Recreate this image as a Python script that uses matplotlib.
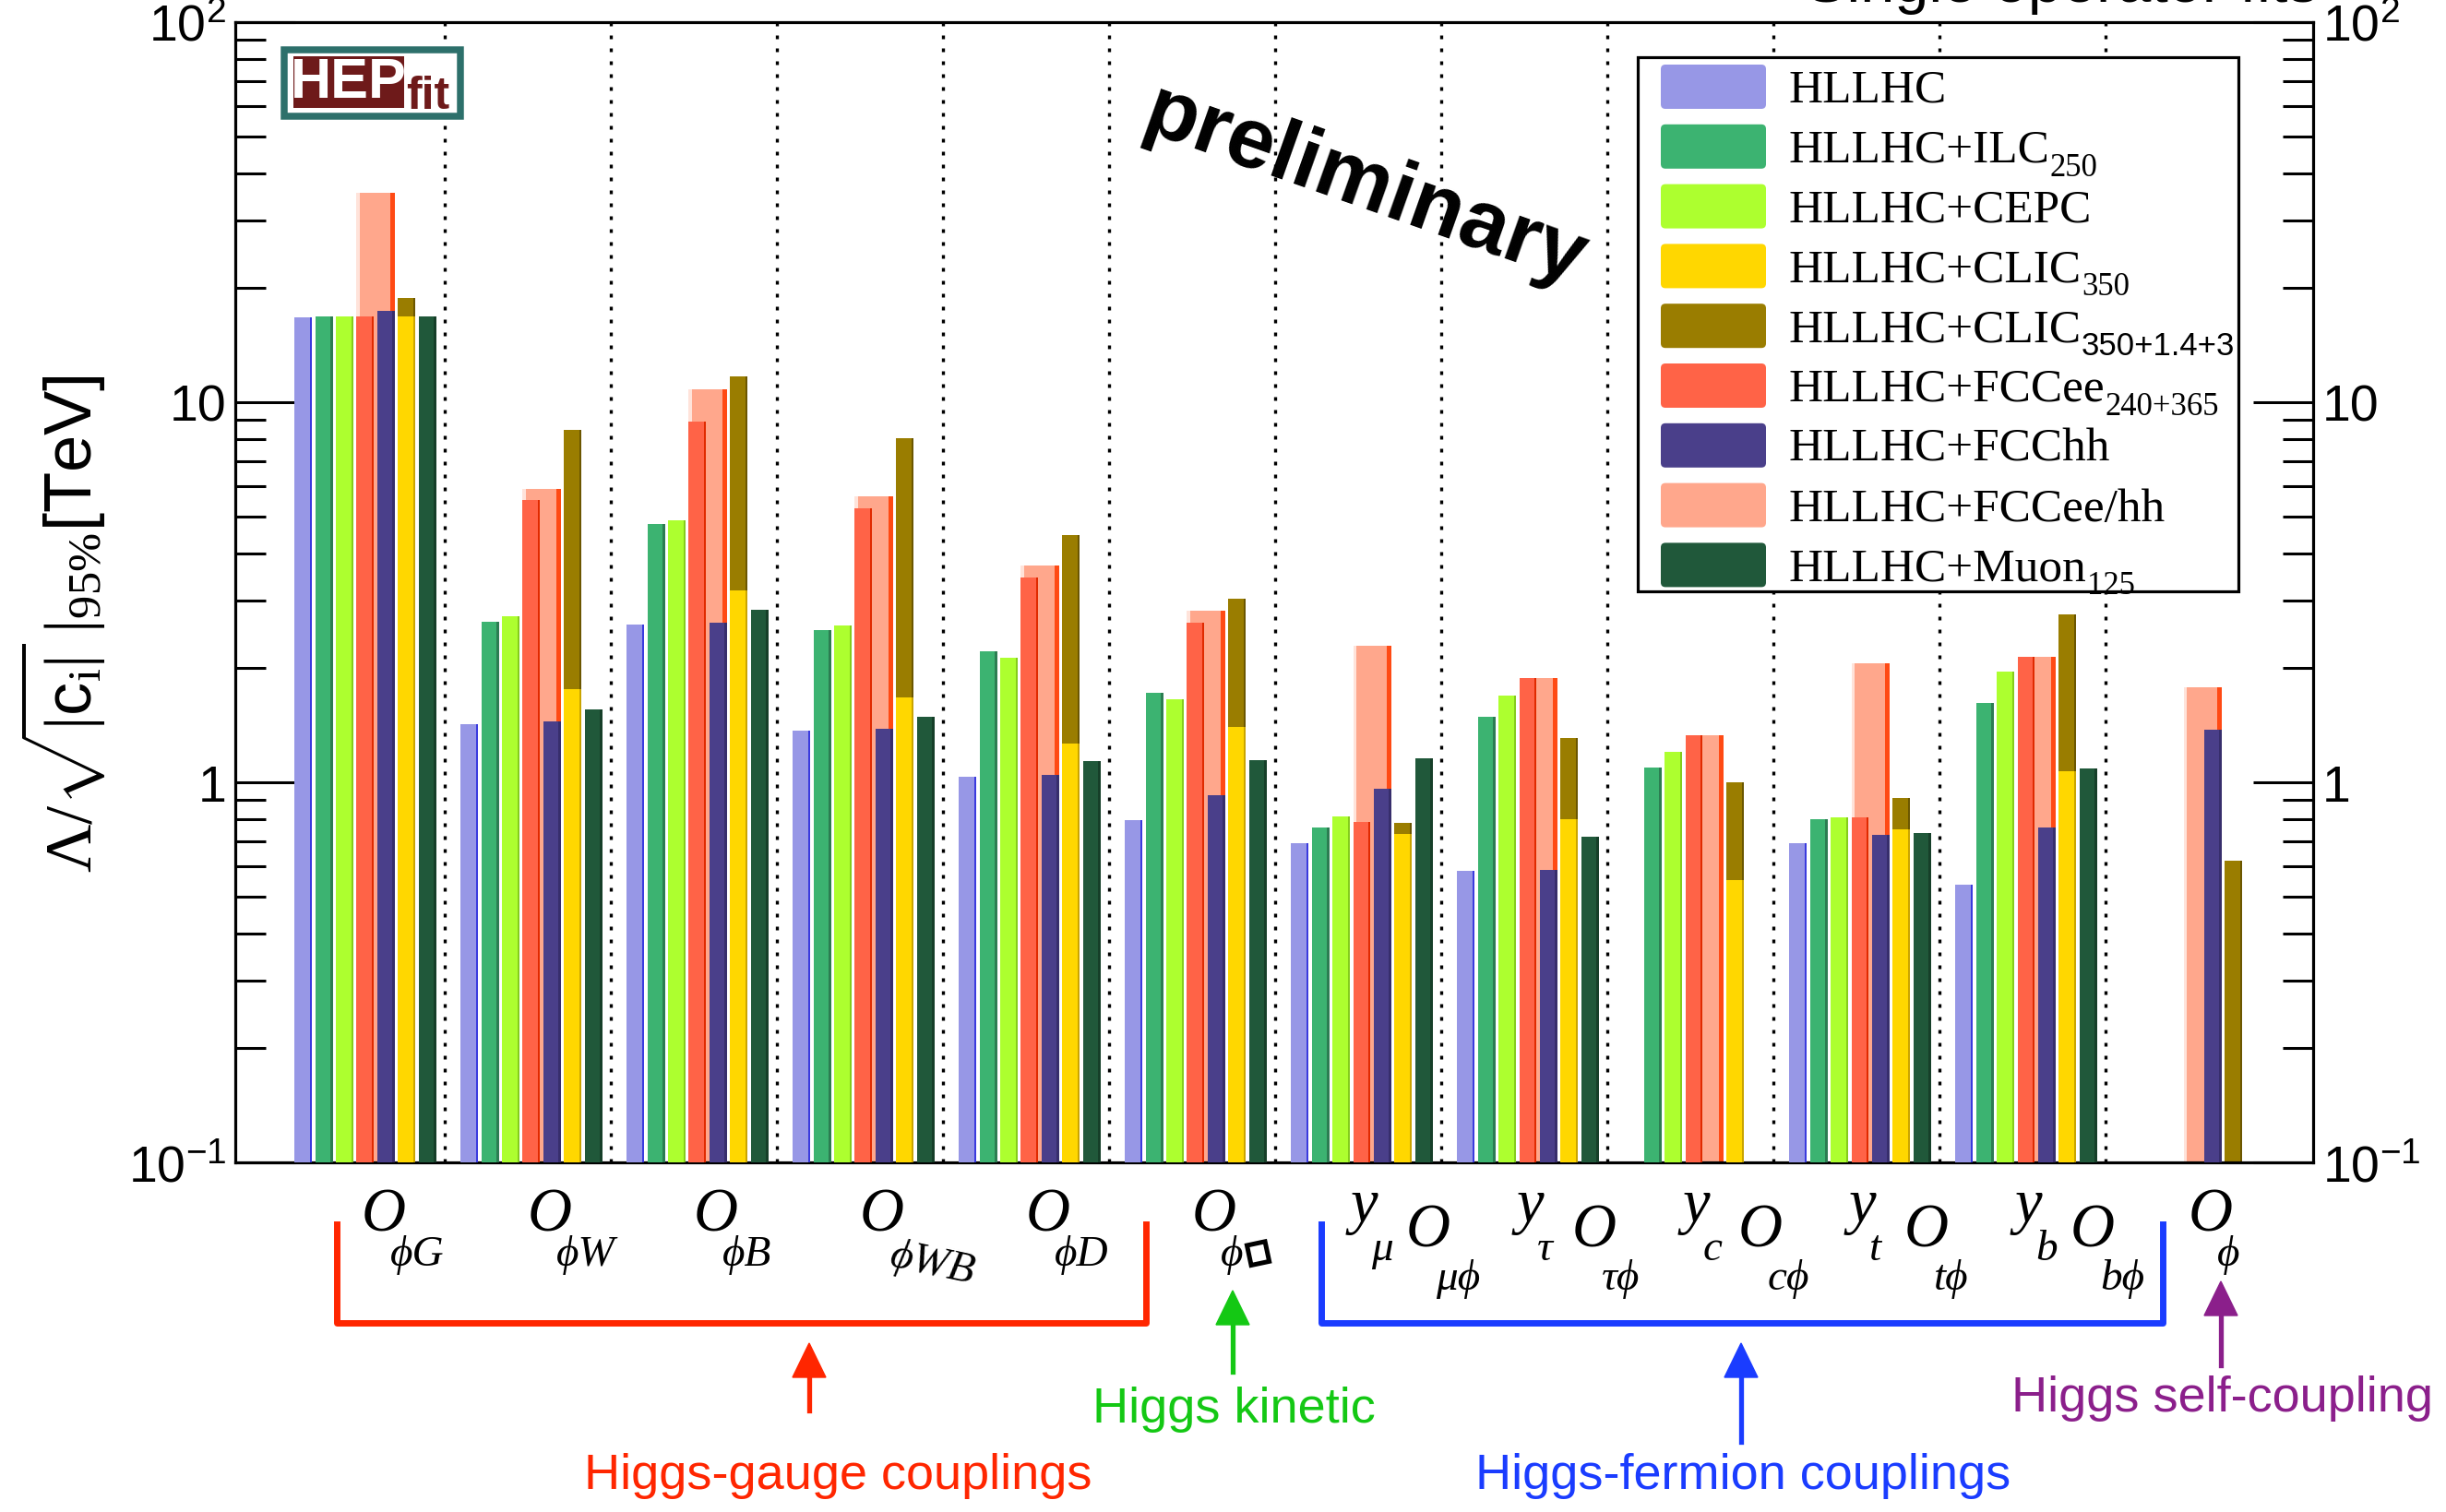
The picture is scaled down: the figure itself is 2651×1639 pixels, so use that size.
import numpy as np
import matplotlib.pyplot as plt
import matplotlib.transforms as mtransforms
from matplotlib.patches import Rectangle, FancyBboxPatch

plt.rcParams['font.family'] = ['Liberation Sans', 'DejaVu Sans']
plt.rcParams['mathtext.fontset'] = 'custom'
plt.rcParams['mathtext.rm'] = 'Liberation Serif'
plt.rcParams['mathtext.it'] = 'Liberation Serif:italic'
plt.rcParams['mathtext.sf'] = 'Liberation Sans'
plt.rcParams['mathtext.bf'] = 'Liberation Serif:bold'

nan = np.nan

# operator labels: optional Yukawa prefix, its subscript, and the operator subscript
prefix = ['', '', '', '', '', '', 'y', 'y', 'y', 'y', 'y', '']
prefix_sub = ['', '', '', '', '', '', 'μ', 'τ', 'c', 't', 'b', '']
op_sub = ['ϕG', 'ϕW', 'ϕB', 'ϕWB', 'ϕD', 'ϕ□', 'μϕ', 'τϕ', 'cϕ', 'tϕ', 'bϕ', 'ϕ']

# 95% CL reach on Lambda/sqrt(|c_i|) in TeV (nan = not shown)
hllhc    = [16.7, 1.425, 2.60, 1.363, 1.034, 0.794, 0.693, 0.584, nan, 0.693, 0.537, nan]
ilc      = [16.8, 2.64, 4.77, 2.51, 2.21, 1.72, 0.762, 1.49, 1.09, 0.800, 1.62, nan]
cepc     = [16.8, 2.74, 4.88, 2.59, 2.13, 1.65, 0.813, 1.686, 1.20, 0.809, 1.956, nan]
clic350  = [16.8, 1.756, 3.19, 1.672, 1.264, 1.396, 0.730, 0.800, 0.552, 0.751, 1.066, nan]
clic_all = [18.8, 8.43, 11.65, 8.03, 4.47, 3.04, 0.782, 1.31, 1.002, 0.911, 2.76, 0.623]
fccee    = [16.8, 5.53, 8.86, 5.25, 3.46, 2.63, 0.784, 1.877, 1.327, 0.809, 2.135, nan]
fcchh    = [17.4, 1.444, 2.63, 1.383, 1.044, 0.925, 0.960, 0.587, nan, 0.726, 0.762, 1.375]
fcceehh  = [35.6, 5.91, 10.78, 5.65, 3.72, 2.82, 2.29, 1.877, 1.327, 2.05, 2.135, 1.776]
muon     = [16.8, 1.553, 2.84, 1.49, 1.135, 1.146, 1.156, 0.718, nan, 0.734, 1.084, nan]

legend_main = ['HLLHC', 'HLLHC+ILC', 'HLLHC+CEPC', 'HLLHC+CLIC', 'HLLHC+CLIC',
               'HLLHC+FCCee', 'HLLHC+FCChh', 'HLLHC+FCCee/hh', 'HLLHC+Muon']
legend_sub = ['', '250', '', '350', '350+1.4+3', '240+365', '', '', '125']
colors = ['#9797e6', '#3cb371', '#adff2f', '#ffd700', '#9a7d00', '#ff6347',
          '#4a3f8a', '#ffa78c', '#20583a']

W, H = 2651, 1640
fig = plt.figure(figsize=(W / 100, H / 100), dpi=100)
ax = fig.add_axes([255 / W, 1 - 1261 / H, (2507 - 255) / W, (1261 - 24.7) / H])
# pixel coordinates measured from the top-left corner of the image
pix = mtransforms.Affine2D().scale(1, -1).translate(0, H)
renderer = fig.canvas.get_renderer()

ax.set_yscale('log')
ax.set_ylim(0.1, 100)
ax.set_xlim(-0.261, 12.25)

x0 = np.arange(len(op_sub))
off, step, bw = 0.096, 0.1245, 0.105


def draw(vals, slot, color, edge, width=bw, strip=0.013, z=3, light=None):
    v = np.asarray(vals, float)
    ok = ~np.isnan(v)
    xl = x0[ok] + off + slot * step
    ax.bar(xl, v[ok], width=width, align='edge', color=color, linewidth=0, zorder=z)
    ax.bar(xl + width - strip, v[ok], width=strip, align='edge', color=edge,
           linewidth=0, zorder=z)
    if light is not None:
        ax.bar(xl, v[ok], width=0.02, align='edge', color=light, linewidth=0, zorder=z)


# wide background bars first, then the single-slot bars on top
draw(fcceehh, 3, colors[7], '#ff4a14', width=step + bw, strip=0.026, z=2, light='#ffe3da')
draw(clic_all, 5, colors[4], '#6b5600', z=2)
draw(hllhc, 0, colors[0], '#3a3ade')
draw(ilc, 1, colors[1], '#2c7d52')
draw(cepc, 2, colors[2], '#84cc1c')
draw(fccee, 3, colors[5], '#e02a00')
draw(fcchh, 4, colors[6], '#372e6c')
draw(clic350, 5, colors[3], '#c9a400')
draw(muon, 6, colors[8], '#163f29')

ax.vlines(np.arange(1, 12), 0.1, 100, colors='black', linestyles=(0, (1.2, 3.0)),
          linewidth=2.4, zorder=1.5)

for s in ax.spines.values():
    s.set_linewidth(2.3)
ax.set_xticks([])
ax.set_yticks([0.1, 1, 10, 100])
ax.set_yticklabels([r'$\mathdefault{10^{-1}}$', '1', '10', r'$\mathdefault{10^{2}}$'])
ax.yaxis.set_minor_locator(plt.LogLocator(base=10, subs=np.arange(2, 10)))
ax.yaxis.set_minor_formatter(plt.NullFormatter())
ax.tick_params(axis='y', which='major', direction='in', length=47, width=2.2,
               left=True, right=True, labelleft=True, labelright=True,
               labelsize=40, pad=7)
ax.tick_params(axis='y', which='minor', direction='in', length=24, width=2.2,
               left=True, right=True)

# y-axis title
fig.text(68, 676, r'$\Lambda/\sqrt{|\mathsf{c}_{\mathrm{i}}|}\;|_{\mathit{95\%}}$[TeV]',
         transform=pix, rotation=90, ha='center', va='center', fontsize=52)

# legend
serif = ['Liberation Serif', 'DejaVu Serif', 'DejaVu Sans']
fig.add_artist(Rectangle((1775, 63), 651, 579, transform=pix, facecolor='white',
                         edgecolor='black', linewidth=2.3, zorder=5))
for k, (lab, sub, c) in enumerate(zip(legend_main, legend_sub, colors)):
    yc = 95 + 64.8 * k
    fig.add_artist(FancyBboxPatch((1800, yc - 24), 114, 48, transform=pix,
                                  boxstyle='round,pad=0,rounding_size=5',
                                  facecolor=c, edgecolor='none', zorder=6))
    t = fig.text(1938, yc + 16, lab, transform=pix, fontsize=37, ha='left',
                 va='baseline', family=serif, zorder=7)
    if sub:
        xr = t.get_window_extent(renderer).x1
        fam = ['Liberation Sans'] if '1.4' in sub else serif
        fig.text(xr + 1, yc + 31, sub, transform=pix, fontsize=25, ha='left',
                 va='baseline', family=fam, zorder=7)

# logo
fig.add_artist(Rectangle((307.5, 54.5), 191, 72, transform=pix, facecolor='white',
                         edgecolor='#2d706b', linewidth=5.4, zorder=5))
fig.add_artist(Rectangle((318, 62), 120, 56, transform=pix, facecolor='#6e1a1a',
                         edgecolor='none', zorder=6))
fig.text(378, 91, 'HEP', transform=pix, color='white', fontsize=44, fontweight='bold',
         ha='center', va='center', zorder=7)
fig.text(440, 118, 'fit', transform=pix, color='#6e1a1a', fontsize=36,
         fontweight='bold', ha='left', va='baseline', zorder=7)

fig.text(1479, 203, 'preliminary', transform=pix, rotation=-19.5, fontsize=67,
         fontweight='bold', ha='center', va='center')

fig.text(2235, 2, 'Single operator fits', transform=pix, fontsize=48, ha='center',
         va='baseline')

# operator labels under each group
for i in range(len(op_sub)):
    cx = ax.transData.transform((i + 0.5, 1))[0]
    if prefix[i]:
        xl = cx - 8
        fig.text(xl, 1325, prefix[i], transform=pix, fontsize=48, style='italic',
                 family=serif, ha='left', va='baseline')
        fig.text(xl + 22, 1366, prefix_sub[i], transform=pix, fontsize=34,
                 style='italic', family=serif, ha='left', va='baseline')
        fig.text(xl + 60, 1352, 'O', transform=pix, fontsize=48, style='italic',
                 family=serif, ha='left', va='baseline')
        fig.text(xl + 92, 1398, op_sub[i], transform=pix, fontsize=34,
                 style='italic', family=serif, ha='left', va='baseline')
    else:
        fig.text(cx, 1335, 'O', transform=pix, fontsize=48, style='italic',
                 family=serif, ha='left', va='baseline')
        main_sub = op_sub[i].replace('□', '')
        t = fig.text(cx + 31, 1372, main_sub, transform=pix, fontsize=34,
                     style='italic', family=serif, ha='left', va='baseline',
                     rotation=-12 if main_sub == 'ϕWB' else 0, rotation_mode='anchor')
        if '□' in op_sub[i]:
            # d'Alembertian box drawn as a thick, slightly tilted square
            xr = t.get_window_extent(renderer).x1
            fig.add_artist(Rectangle((xr + 4, 1351), 20, 22, angle=-12,
                                     transform=pix, facecolor='none',
                                     edgecolor='black', linewidth=3.6))

# brackets, arrows and class names
fig.add_artist(plt.Line2D([365, 365, 1242, 1242], [1328, 1435, 1435, 1328],
                          transform=pix, color='#ff2600', linewidth=5))
fig.add_artist(plt.Line2D([1432, 1432, 2344, 2344], [1328, 1435, 1435, 1328],
                          transform=pix, color='#1a3cff', linewidth=5))
groups = [('Higgs-gauge couplings', '#ff2600', 877, 1457, 1530, 908, 1600),
          ('Higgs kinetic', '#14c814', 1336, 1400, 1488, 1337, 1528),
          ('Higgs-fermion couplings', '#1a3cff', 1887, 1457, 1564, 1889, 1600),
          ('Higgs self-coupling', '#8b1f8b', 2407, 1390, 1481, 2409, 1516)]
for name, c, ax_x, tip, base, tx, ty in groups:
    fig.add_artist(plt.Line2D([ax_x, ax_x], [base, tip + 30], transform=pix, color=c,
                              linewidth=3.8))
    fig.add_artist(plt.Polygon([[ax_x - 18, tip + 37], [ax_x + 18, tip + 37], [ax_x, tip]],
                               closed=True, transform=pix, color=c))
    fig.text(tx, ty, name, transform=pix, color=c, fontsize=39, ha='center', va='center')

fig.savefig('out.png', dpi=100)
